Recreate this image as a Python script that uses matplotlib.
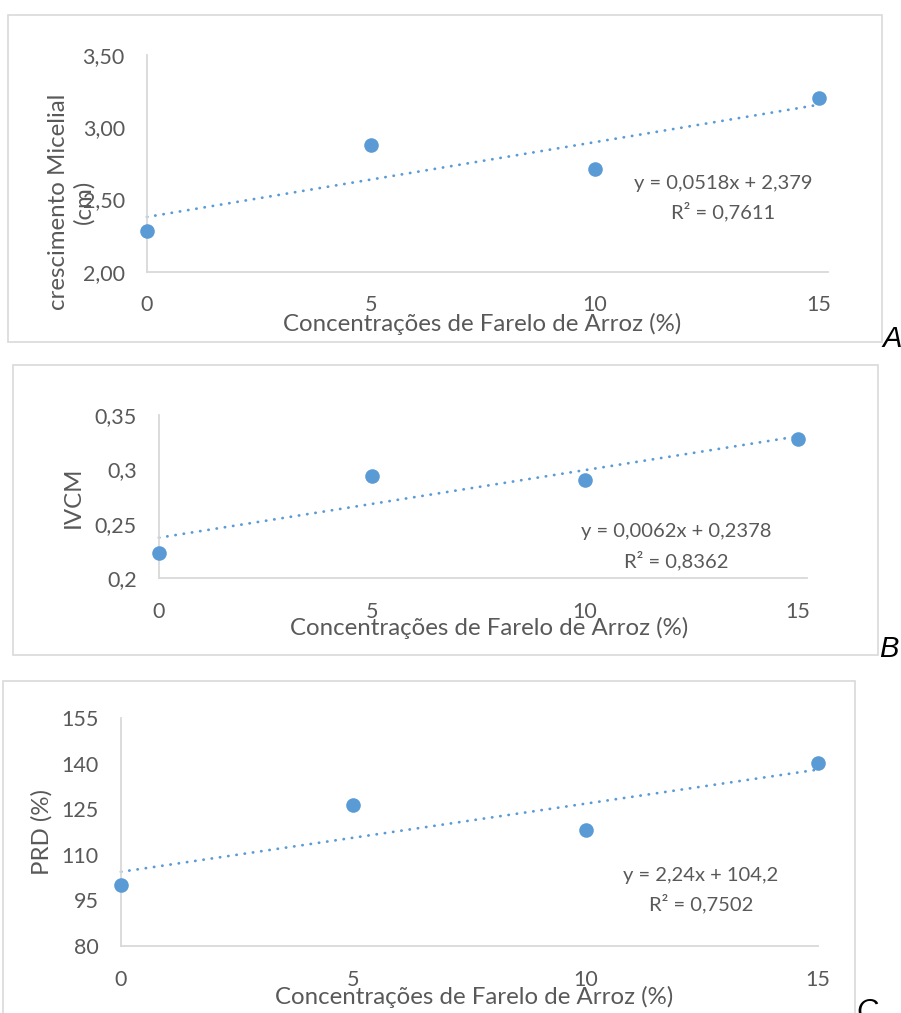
import numpy as np
import matplotlib
matplotlib.use("Agg")
import matplotlib.pyplot as plt
from matplotlib.patches import Rectangle
from matplotlib.ticker import FixedLocator, FixedFormatter

# ---------------- data ----------------
concentracoes = [0, 5, 10, 15]
crescimento = [2.28, 2.88, 2.71, 3.20]
ivcm = [0.223, 0.294, 0.290, 0.328]
prd = [100.1, 126.4, 118.2, 140.2]

yticks_a = [2.00, 2.50, 3.00, 3.50]
yticklabels_a = ["2,00", "2,50", "3,00", "3,50"]
yticks_b = [0.20, 0.25, 0.30, 0.35]
yticklabels_b = ["0,2", "0,25", "0,3", "0,35"]
yticks_c = [80, 95, 110, 125, 140, 155]
yticklabels_c = ["80", "95", "110", "125", "140", "155"]
xticks = [0, 5, 10, 15]
xticklabels = ["0", "5", "10", "15"]

eq_a = ["y = 0,0518x + 2,379", "R² = 0,7611"]
eq_b = ["y = 0,0062x + 0,2378", "R² = 0,8362"]
eq_c = ["y = 2,24x + 104,2", "R² = 0,7502"]

xlabel = "Concentrações de Farelo de Arroz (%)"
ylabel_a = "crescimento Micelial\n(cm)"
ylabel_b = "IVCM"
ylabel_c = "PRD (%)"

# ---------------- style ----------------
W, H = 901, 1013
FONT = "Lato"
GRAY = "#595959"
AXGRAY = "#D9D9D9"
BLUE = "#5B9BD5"
FS = 15.5
FS_LAB = 17.3
FS_EQ = 14.5

fig = plt.figure(figsize=(W / 100, H / 100), dpi=100)
fig.patch.set_facecolor("white")


def fx(px):
    return px / W


def fy(py):
    return 1 - py / H


def box(x0, y0, x1, y1):
    fig.patches.append(Rectangle((fx(x0), fy(y1)), fx(x1) - fx(x0), fy(y0) - fy(y1),
                                 transform=fig.transFigure, fill=False,
                                 edgecolor=AXGRAY, linewidth=1.2, zorder=0))


def panel(px0, px1, py_top, py_bot, xmax, yvals, ylim, yt, ytl, eq, eq_xy, fs_eq,
          xl_xy, yl, yl_xy, letter, letter_xy):
    ax = fig.add_axes([fx(px0), fy(py_bot), fx(px1) - fx(px0), fy(py_top) - fy(py_bot)])
    ax.set_xlim(0, xmax)
    ax.set_ylim(*ylim)
    for s in ["top", "right"]:
        ax.spines[s].set_visible(False)
    for s in ["left", "bottom"]:
        ax.spines[s].set_color(AXGRAY)
        ax.spines[s].set_linewidth(1.3)
    ax.xaxis.set_major_locator(FixedLocator(xticks))
    ax.xaxis.set_major_formatter(FixedFormatter(xticklabels))
    ax.yaxis.set_major_locator(FixedLocator(yt))
    ax.yaxis.set_major_formatter(FixedFormatter(ytl))
    ax.tick_params(length=0, colors=GRAY, labelsize=FS)
    ax.tick_params(axis="x", pad=17)
    ax.tick_params(axis="y", pad=16)
    for lab in ax.get_xticklabels() + ax.get_yticklabels():
        lab.set_fontfamily(FONT)
    # trendline
    coef = np.polyfit(concentracoes, yvals, 1)
    xx = np.array([concentracoes[0], concentracoes[-1]])
    ax.plot(xx, np.polyval(coef, xx), color=BLUE, lw=2.0,
            linestyle=(0, (0.1, 2.9)), dash_capstyle="round", zorder=2, clip_on=False)
    ax.plot(concentracoes, yvals, "o", color=BLUE, markersize=10.5, zorder=3,
            clip_on=False, markeredgewidth=0)
    # equation
    fig.text(fx(eq_xy[0]), fy(eq_xy[1]), eq[0], ha="center", va="center",
             fontsize=fs_eq, color=GRAY, family=FONT)
    fig.text(fx(eq_xy[0]), fy(eq_xy[1] + 29), eq[1], ha="center", va="center",
             fontsize=fs_eq, color=GRAY, family=FONT)
    # labels
    fig.text(fx(xl_xy[0]), fy(xl_xy[1]), xlabel, ha="center", va="center",
             fontsize=FS_LAB, color=GRAY, family=FONT)
    fig.text(fx(yl_xy[0]), fy(yl_xy[1]), yl, ha="center", va="center", rotation=90,
             fontsize=FS_LAB, color=GRAY, family=FONT, linespacing=1.25,
             multialignment="center")
    fig.text(fx(letter_xy[0]), fy(letter_xy[1]), letter, ha="left", va="baseline",
             fontsize=21, color="black", family="Liberation Sans", style="italic")
    return ax


box(8, 15, 882, 342)
box(13, 365, 878, 655)
box(3, 681, 855, 1030)

panel(147, 828, 55, 271.7, 15.2, crescimento, (2.0, 3.5), yticks_a, yticklabels_a,
      eq_a, (723, 183), FS_EQ, (482, 324), ylabel_a, (71, 202), "A", (882, 347))
panel(159, 807, 415, 578, 15.21, ivcm, (0.2, 0.35), yticks_b, yticklabels_b,
      eq_b, (676, 532), FS_EQ, (489, 628), ylabel_b, (73, 497), "B", (879, 657))
panel(121, 818, 718, 946, 15.0, prd, (80, 155), yticks_c, yticklabels_c,
      eq_c, (701, 875), FS_EQ, (474, 997), ylabel_c, (42, 832), "C", (856, 1019))

fig.savefig("out.png", dpi=100, facecolor="white")
